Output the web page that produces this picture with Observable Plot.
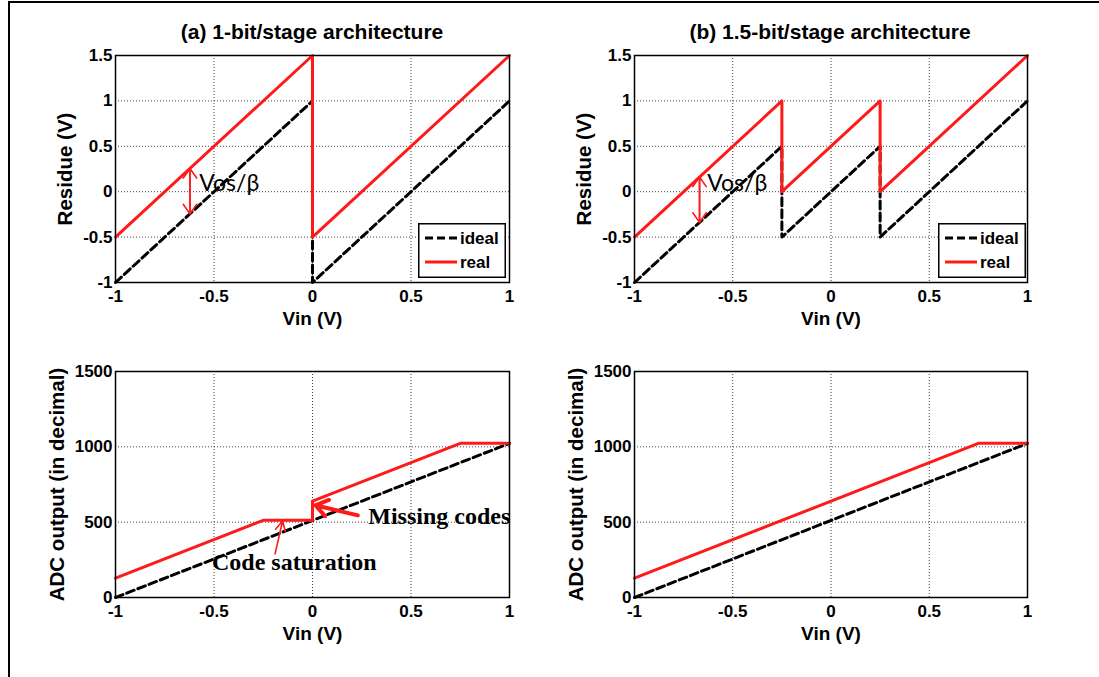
<!DOCTYPE html>
<html>
<head>
<meta charset="utf-8">
<script src="https://cdn.jsdelivr.net/npm/d3@7"></script>
<script src="https://cdn.jsdelivr.net/npm/@observablehq/plot@0.6"></script>
<style>
  html, body { margin: 0; padding: 0; background: #fff; overflow: hidden; }
  #root { position: relative; width: 1099px; height: 677px; background: #fff; overflow: hidden; }
  .frame { position: absolute; left: 8px; top: 1px; width: 1200px; height: 800px; border-left: 2px solid #000; border-top: 2px solid #000; }
  .chart { position: absolute; }
  .title { position: absolute; font-family: "Liberation Sans", Arial, sans-serif; font-weight: bold; font-size: 21px; transform: translate(-50%, -50%); white-space: nowrap; }
  .legend { position: absolute; }
</style>
</head>
<body>
<div id="root"><div class="frame"></div></div>
<script>
// ---------- data ----------
const titles = ["(a) 1-bit/stage architecture", "(b) 1.5-bit/stage architecture"];
const xLabel = "Vin (V)";
const residueLabel = "Residue (V)";
const adcLabel = "ADC output (in decimal)";
const xTicks = [-1, -0.5, 0, 0.5, 1];
const residueTicks = [-1, -0.5, 0, 0.5, 1, 1.5];
const adcTicks = [0, 500, 1000, 1500];
const legendLabels = ["ideal", "real"];

// (a) residue, 1-bit/stage
const resA_x = [-1, 0, 0, 1];
const resA_ideal = [-1, 1, -1, 1];
const resA_real = [-0.5, 1.5, -0.5, 1.5];
// (b) residue, 1.5-bit/stage
const resB_x = [-1, -0.25, -0.25, 0.25, 0.25, 1];
const resB_ideal = [-1, 0.5, -0.5, 0.5, -0.5, 1];
const resB_real = [-0.5, 1, 0, 1, 0, 1.5];
// ADC output
const adc_ideal_x = [-1, 1];
const adc_ideal = [0, 1023];
const adcA_real_x = [-1, -0.25, 0, 0, 0.75, 1];
const adcA_real = [128, 512, 512, 640, 1023, 1023];
const adcB_real_x = [-1, 0.75, 1];
const adcB_real = [128, 1023, 1023];

// annotations
const vosText = "Vos/β";
const vosA = {x: -0.622, yReal: 0.256, yIdeal: -0.244, tx: -0.575, ty: 0.09};
const vosB = {x: -0.669, yReal: 0.162, yIdeal: -0.338, tx: -0.63, ty: 0.09};
const missingText = "Missing codes";
const missingArrow = {x1: 0.23, y1: 545, x2: 0.015, y2: 612, tx: 0.283, ty: 540};
const saturationText = "Code saturation";
const saturationArrow = {x1: -0.19, y1: 290, x2: -0.152, y2: 508, tx: -0.51, ty: 232};

// ---------- helpers ----------
const pts = (xs, ys) => xs.map((x, i) => ({x, y: ys[i]}));
const RED = "#ff1a1a";
const fontSans = "'Liberation Sans', Arial, sans-serif";

function panel({left, top, width, height, mL, mR, mT, mB, yDomain, yTicks, yLabel, yLabelDx, marks}) {
  const p = Plot.plot({
    width, height,
    marginLeft: mL, marginRight: mR, marginTop: mT, marginBottom: mB,
    style: {fontFamily: fontSans, fontSize: "17px", fontWeight: "bold", color: "#000", background: "transparent", overflow: "visible"},
    x: {domain: [-1, 1]},
    y: {domain: yDomain},
    marks: [
      Plot.gridX({ticks: xTicks, stroke: "#000", strokeOpacity: 0.75, strokeDasharray: "1,2", strokeWidth: 1}),
      Plot.gridY({ticks: yTicks, stroke: "#000", strokeOpacity: 0.75, strokeDasharray: "1,2", strokeWidth: 1}),
      Plot.axisX({ticks: xTicks, tickSize: 0, tickPadding: 7, tickFormat: d => String(d), label: null}),
      Plot.axisY({ticks: yTicks, tickSize: 0, tickPadding: 3, tickFormat: d => String(d), label: null}),
      ...marks,
      Plot.frame({stroke: "#000", strokeWidth: 1.5}),
      Plot.text([xLabel], {text: d => d, frameAnchor: "bottom", textAnchor: "middle", dy: 42, fontSize: 19, fontWeight: "bold"}),
      Plot.text([yLabel], {text: d => d, frameAnchor: "left", textAnchor: "middle", dx: yLabelDx, rotate: -90, fontSize: 20.5, fontWeight: "bold"})
    ]
  });
  p.classList.add("chart");
  p.style.left = left + "px";
  p.style.top = top + "px";
  document.getElementById("root").appendChild(p);
}

const idealStyle = {x: "x", y: "y", stroke: "#000", strokeWidth: 3, strokeDasharray: "8,4"};
const realStyle = {x: "x", y: "y", stroke: RED, strokeWidth: 3};

function vosMarks(v) {
  return [
    Plot.arrow([v], {x1: "x", x2: "x", y1: "yReal", y2: "yIdeal", stroke: RED, strokeWidth: 1.6, headLength: 11, headAngle: 70}),
    Plot.arrow([v], {x1: "x", x2: "x", y1: "yIdeal", y2: "yReal", stroke: RED, strokeWidth: 1.6, headLength: 11, headAngle: 70}),
    Plot.text([v], {x: "tx", y: "ty", text: () => vosText, textAnchor: "start", fontFamily: "Lato, 'Open Sans', sans-serif", fontWeight: "normal", fontSize: 23})
  ];
}

// top-left: residue (a)
panel({left: 0, top: 0, width: 545, height: 340, mL: 115, mR: 36, mT: 55, mB: 58,
  yDomain: [-1, 1.5], yTicks: residueTicks, yLabel: residueLabel, yLabelDx: -50,
  marks: [
    Plot.line(pts(resA_x, resA_ideal), idealStyle),
    Plot.line(pts(resA_x, resA_real), realStyle),
    ...vosMarks(vosA)
  ]});

// top-right: residue (b)
panel({left: 545, top: 0, width: 554, height: 340, mL: 89, mR: 72, mT: 55, mB: 58,
  yDomain: [-1, 1.5], yTicks: residueTicks, yLabel: residueLabel, yLabelDx: -50,
  marks: [
    Plot.line(pts(resB_x, resB_ideal), idealStyle),
    Plot.line(pts(resB_x, resB_real), realStyle),
    ...vosMarks(vosB)
  ]});

// bottom-left: ADC (a)
panel({left: 0, top: 340, width: 545, height: 337, mL: 115, mR: 36, mT: 31, mB: 80,
  yDomain: [0, 1500], yTicks: adcTicks, yLabel: adcLabel, yLabelDx: -58,
  marks: [
    Plot.line(pts(adc_ideal_x, adc_ideal), idealStyle),
    Plot.line(pts(adcA_real_x, adcA_real), realStyle),
    Plot.arrow([missingArrow], {x1: "x1", y1: "y1", x2: "x2", y2: "y2", stroke: RED, strokeWidth: 4, headLength: 14, headAngle: 70}),
    Plot.text([missingArrow], {x: "tx", y: "ty", text: () => missingText, textAnchor: "start", fontFamily: "'Liberation Serif', 'Times New Roman', serif", fontWeight: "bold", fontSize: 24}),
    Plot.arrow([saturationArrow], {x1: "x1", y1: "y1", x2: "x2", y2: "y2", stroke: RED, strokeWidth: 1.6, headLength: 10, headAngle: 55}),
    Plot.text([saturationArrow], {x: "tx", y: "ty", text: () => saturationText, textAnchor: "start", fontFamily: "'Liberation Serif', 'Times New Roman', serif", fontWeight: "bold", fontSize: 24})
  ]});

// bottom-right: ADC (b)
panel({left: 545, top: 340, width: 554, height: 337, mL: 89, mR: 72, mT: 31, mB: 80,
  yDomain: [0, 1500], yTicks: adcTicks, yLabel: adcLabel, yLabelDx: -58,
  marks: [
    Plot.line(pts(adc_ideal_x, adc_ideal), idealStyle),
    Plot.line(pts(adcB_real_x, adcB_real), realStyle)
  ]});

// titles
const root = document.getElementById("root");
[[312, 32], [830, 32]].forEach(([cx, cy], i) => {
  const t = document.createElement("div");
  t.className = "title";
  t.style.left = cx + "px";
  t.style.top = cy + "px";
  t.textContent = titles[i];
  root.appendChild(t);
});

// legends
function legend(left, top) {
  const ns = "http://www.w3.org/2000/svg";
  const svg = document.createElementNS(ns, "svg");
  svg.setAttribute("width", 88);
  svg.setAttribute("height", 55);
  svg.setAttribute("class", "legend");
  svg.style.left = left + "px";
  svg.style.top = top + "px";
  svg.innerHTML = `
    <rect x="0.75" y="0.75" width="86.5" height="53.5" fill="#fff" stroke="#000" stroke-width="1.5"/>
    <line x1="7" x2="39" y1="15" y2="15" stroke="#000" stroke-width="3" stroke-dasharray="8,4"/>
    <line x1="7" x2="39" y1="39" y2="39" stroke="${RED}" stroke-width="3"/>
    <text x="42" y="15" dy="0.35em" font-family="${fontSans}" font-weight="bold" font-size="17">${legendLabels[0]}</text>
    <text x="42" y="39" dy="0.35em" font-family="${fontSans}" font-weight="bold" font-size="17">${legendLabels[1]}</text>`;
  root.appendChild(svg);
}
legend(418, 223);
legend(938, 223);
</script>
</body>
</html>
